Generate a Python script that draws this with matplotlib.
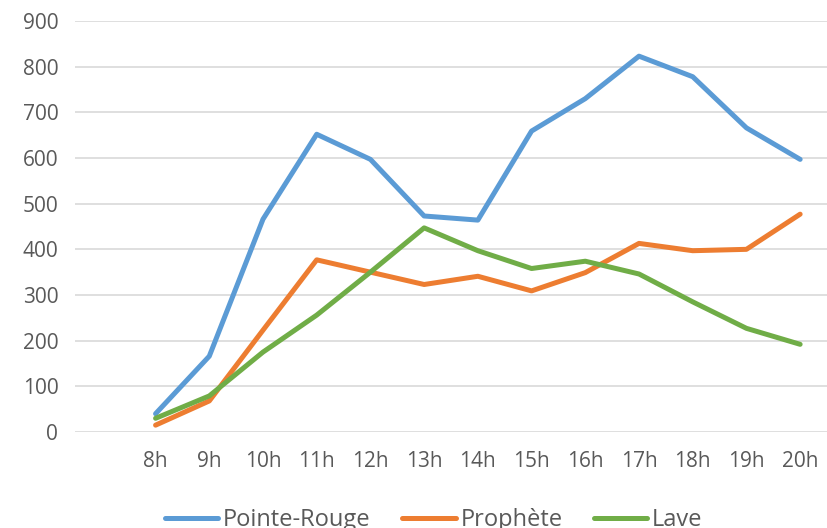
import matplotlib.pyplot as plt

# first category is empty in the source sheet
hours = ['', '8h', '9h', '10h', '11h', '12h', '13h', '14h', '15h', '16h', '17h', '18h', '19h', '20h']
pointe_rouge = [40, 166, 466, 652, 597, 473, 464, 659, 730, 823, 778, 666, 597]
prophete = [15, 68, 223, 377, 350, 323, 341, 309, 349, 413, 397, 400, 477]
lave = [30, 79, 175, 256, 350, 447, 397, 358, 374, 346, 285, 227, 192]

plt.rcParams['font.family'] = ['Open Sans', 'DejaVu Sans']

fig = plt.figure(figsize=(8.28, 5.28), dpi=100)
ax = fig.add_axes([75 / 828, 1 - 432 / 528, 752 / 828, 411 / 528])

x = list(range(1, len(hours)))
ax.plot(x, pointe_rouge, color='#5b9bd5', lw=3.6, label='Pointe-Rouge', solid_capstyle='round', solid_joinstyle='round')
ax.plot(x, prophete, color='#ed7d31', lw=3.6, label='Prophète', solid_capstyle='round', solid_joinstyle='round')
ax.plot(x, lave, color='#70ad47', lw=3.6, label='Lave', solid_capstyle='round', solid_joinstyle='round')

ax.set_xlim(-0.5, len(hours) - 0.5)
ax.set_ylim(0, 900)
ax.set_yticks(range(0, 901, 100))
ax.set_xticks(range(len(hours)))
ax.set_xticklabels(hours)
ax.grid(axis='y', color='#d9d9d9', lw=1.2)
ax.set_axisbelow(True)
for s in ax.spines.values():
    s.set_visible(False)
ax.tick_params(length=0, labelsize=15, colors='#595959')
ax.tick_params(axis='x', pad=14)
ax.tick_params(axis='y', pad=12)

leg = fig.legend(loc='center', bbox_to_anchor=(0.524, 0.015), ncol=3, frameon=False,
                 fontsize=17, handlelength=2.25, handletextpad=0.2, columnspacing=1.35)
for t in leg.get_texts():
    t.set_color('#595959')

plt.savefig('out.png', dpi=100)
